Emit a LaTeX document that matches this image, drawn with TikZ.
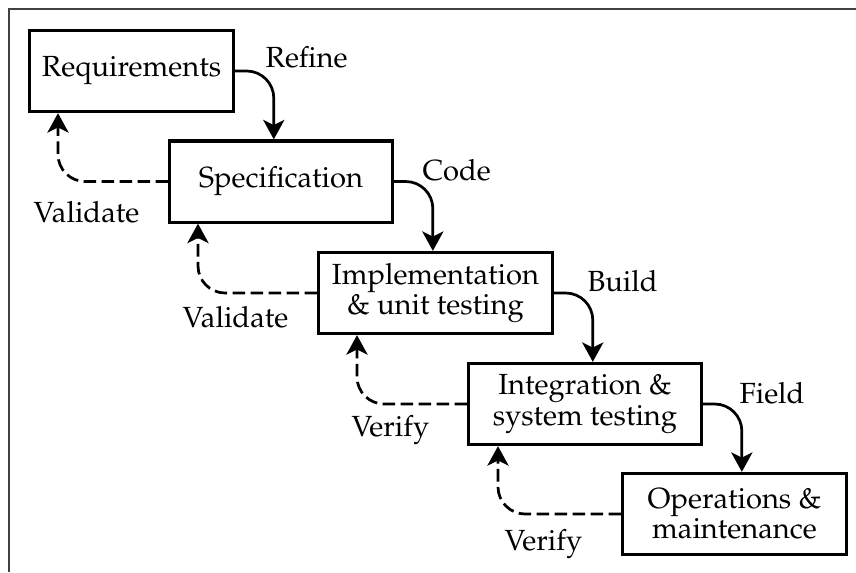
\documentclass[tikz,border=0pt]{standalone}
\usepackage[T1]{fontenc}
\usepackage{mathpazo}
\usetikzlibrary{arrows.meta,calc}
\begin{document}
\begin{tikzpicture}[x=0.35pt,y=-0.35pt,
  stage/.style={draw,line width=1.1pt,align=center,inner sep=0pt,minimum height=28.4pt,font=\fontsize{10.2}{10.6}\selectfont},
  flow/.style={line width=0.95pt,rounded corners=9.5pt,-{Stealth[length=6.8pt,width=7.4pt,inset=1.8pt]}},
  back/.style={flow,dash pattern=on 4.4pt off 1.9pt},
  lbl/.style={anchor=base west,inner sep=0pt,font=\fontsize{10.2}{12}\selectfont},
  frame/.style={draw=black!75,line width=0.7pt}]
\useasboundingbox (0,0) rectangle (856,572);
\draw[frame] (856,9) -- (9,9) -- (9,572);

\node[stage,minimum width=71.2pt] (req) at (131.5,71) {Requirements};
\node[stage,minimum width=77.9pt] (spec) at (281,181.5) {Specification};
\node[stage,minimum width=81.7pt] (impl) at (435.5,293) {Implementation\\\& unit testing};
\node[stage,minimum width=81.4pt] (integ) at (585,404) {Integration \&\\system testing};
\node[stage,minimum width=78.2pt] (ops) at (734.5,514) {Operations \&\\maintenance};

% forward arrows
\coordinate (f1) at ($(req.east)+(39,0)$);
\coordinate (f2) at ($(spec.east)+(39,0)$);
\coordinate (f3) at ($(impl.east)+(39,0)$);
\coordinate (f4) at ($(integ.east)+(39,0)$);
\draw[flow] (req.east) -| (f1 |- spec.north);
\draw[flow] (spec.east) -| (f2 |- impl.north);
\draw[flow] (impl.east) -| (f3 |- integ.north);
\draw[flow] (integ.east) -| (f4 |- ops.north);

% feedback arrows
\coordinate (b1) at (58,0);
\coordinate (b2) at (198,0);
\coordinate (b3) at (357,0);
\coordinate (b4) at (498,0);
\draw[back] (spec.west) -| (b1 |- req.south);
\draw[back] (impl.west) -| (b2 |- spec.south);
\draw[back] (integ.west) -| (b3 |- impl.south);
\draw[back] (ops.west) -| (b4 |- integ.south);

% labels
\node[lbl] (lrefine) at (265,67) {Refine};
\node[lbl] (lcode) at (422,180) {Code};
\node[lbl] (lbuild) at (587,291) {Build};
\node[lbl] (lfield) at (739,403) {Field};
\node[lbl] (lval1) at (33,222) {Validate};
\node[lbl] (lval2) at (182,327) {Validate};
\node[lbl] (lver1) at (351,436) {Verify};
\node[lbl] (lver2) at (504,550) {Verify};
\end{tikzpicture}
\end{document}
